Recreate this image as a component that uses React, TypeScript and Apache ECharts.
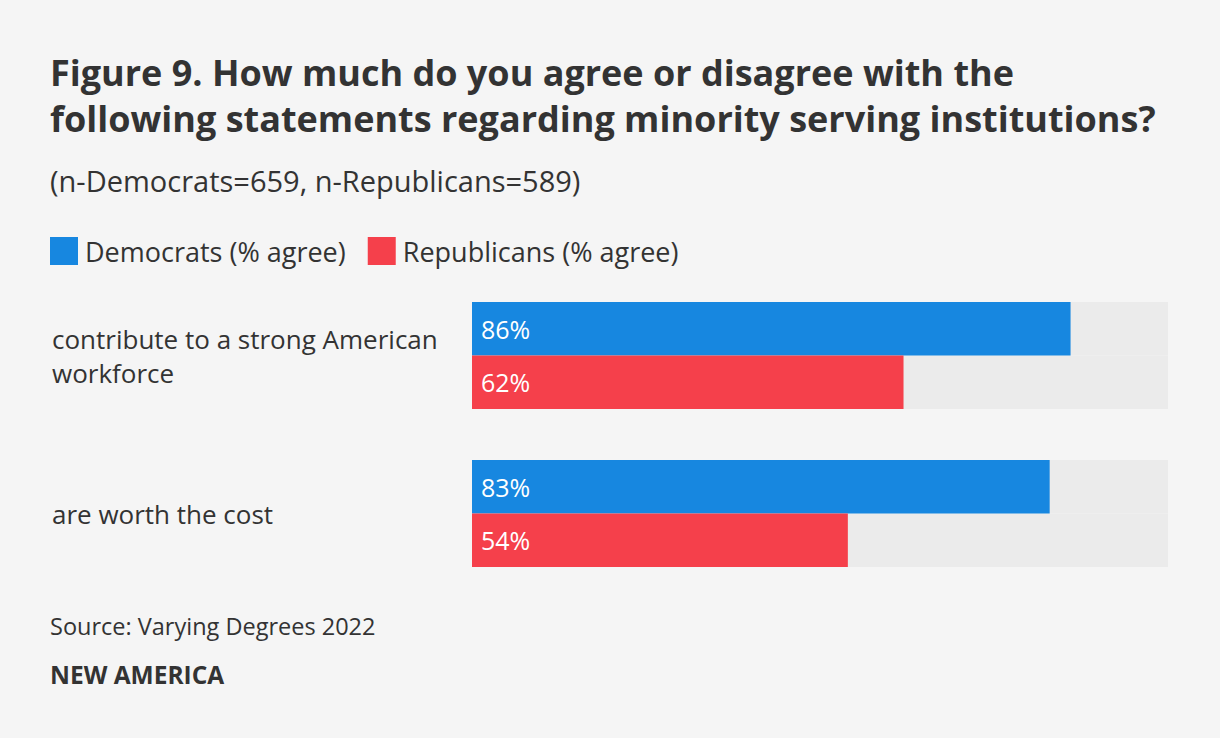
import React, { useEffect, useRef } from "react";
import * as echarts from "echarts";

const categories = ["contribute to a strong American workforce", "are worth the cost"];
const democrats = [86, 83];
const republicans = [62, 54];
const seriesNames = ["Democrats (% agree)", "Republicans (% agree)"];

const FONT = "Open Sans";
const TEXT = "#333333";

export default function App() {
  const ref = useRef<HTMLDivElement>(null);
  useEffect(() => {
    if (!ref.current) return;
    const chart = echarts.init(ref.current, undefined, { renderer: "svg" });
    const label = {
      show: true,
      position: "insideLeft",
      distance: 9,
      color: "#ffffff",
      fontSize: 25,
      fontFamily: FONT,
      formatter: "{c}%",
    };
    chart.setOption({
      animation: false,
      backgroundColor: "#f5f5f5",
      textStyle: { fontFamily: FONT },
      title: [
        {
          text: "Figure 9. How much do you agree or disagree with the\nfollowing statements regarding minority serving institutions?",
          left: 50,
          top: 49,
          padding: 0,
          textStyle: { fontSize: 36, fontWeight: "bold", color: TEXT, lineHeight: 46, fontFamily: FONT },
        },
        {
          text: "(n-Democrats=659, n-Republicans=589)",
          left: 50,
          top: 165,
          padding: 0,
          textStyle: { fontSize: 29, fontWeight: "normal", color: TEXT, lineHeight: 30, fontFamily: FONT },
        },
        {
          text: "Source: Varying Degrees 2022",
          left: 50,
          top: 613,
          padding: 0,
          textStyle: { fontSize: 23.5, fontWeight: "normal", color: TEXT, lineHeight: 26, fontFamily: FONT },
        },
        {
          text: "NEW AMERICA",
          left: 50,
          top: 661,
          padding: 0,
          textStyle: { fontSize: 24.5, fontWeight: "bold", color: TEXT, lineHeight: 26, fontFamily: FONT },
        },
      ],
      legend: {
        left: 50,
        top: 237,
        padding: 0,
        icon: "rect",
        itemWidth: 28,
        itemHeight: 28,
        itemGap: 22,
        selectedMode: false,
        textStyle: { fontSize: 27, color: TEXT, fontFamily: FONT, padding: [0, 0, 0, 2] },
        data: seriesNames,
      },
      grid: { left: 472, right: 52, top: 276.5, bottom: 145.5 },
      xAxis: { type: "value", min: 0, max: 100, show: false },
      yAxis: {
        type: "category",
        data: categories,
        inverse: true,
        axisLine: { show: false },
        axisTick: { show: false },
        axisLabel: {
          align: "left",
          margin: 420,
          width: 410,
          overflow: "break",
          fontSize: 26,
          lineHeight: 34,
          color: TEXT,
          fontFamily: FONT,
          padding: [0, 0, 18, 0],
        },
      },
      series: [
        {
          name: seriesNames[0],
          type: "bar",
          data: democrats,
          barWidth: 53.5,
          barGap: "0%",
          itemStyle: { color: "#1787e0" },
          showBackground: true,
          backgroundStyle: { color: "#ebebeb" },
          label,
        },
        {
          name: seriesNames[1],
          type: "bar",
          data: republicans,
          barWidth: 53.5,
          barGap: "0%",
          itemStyle: { color: "#f5404b" },
          showBackground: true,
          backgroundStyle: { color: "#ebebeb" },
          label,
        },
      ],
    });
    return () => chart.dispose();
  }, []);
  return (
    <div
      ref={ref}
      style={{ position: "absolute", left: 0, top: 0, width: 1220, height: 738 }}
    />
  );
}
